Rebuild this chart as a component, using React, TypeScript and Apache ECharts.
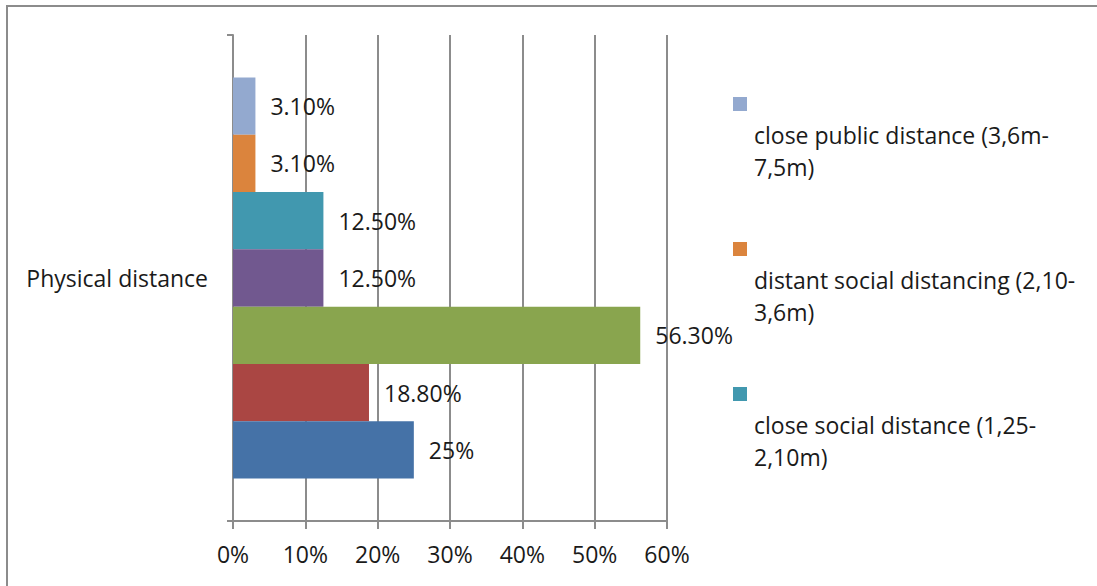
import React, { useEffect, useRef } from "react";
import * as echarts from "echarts";

// Data (top-to-bottom order as seen in the chart)
const categories = ["Physical distance"];
const seriesNames = [
  "close public distance (3,6m-7,5m)",
  "distant social distancing (2,10-3,6m)",
  "close social distance (1,25-2,10m)",
  "distant personal distance (0,75-1,25m)",
  "close personal distance (0,45-0,75m)",
  "distant intimate distance (0,15-0,45m)",
  "close intimate distance (0-0,15m)",
];
const seriesValues = [3.1, 3.1, 12.5, 12.5, 56.3, 18.8, 25];
const labelTexts = ["3.10%", "3.10%", "12.50%", "12.50%", "56.30%", "18.80%", "25%"];
const seriesColors = ["#93A9CF", "#DB843D", "#4198AF", "#71588F", "#89A54E", "#AA4643", "#4572A7"];
const legendShown = 3;
const xTicks = [0, 10, 20, 30, 40, 50, 60];

const FONT = "'Open Sans'";
const FS = 23;
const GRAY = "#8c8c8c";
const TXT = "#1a1a1a";

export default function App() {
  const ref = useRef<HTMLDivElement>(null);
  useEffect(() => {
    if (!ref.current) return;
    const chart = echarts.init(ref.current, null, { renderer: "svg" });

    const legendGraphics: any[] = [];
    for (let i = 0; i < legendShown; i++) {
      const top = 97 + i * 145;
      legendGraphics.push({
        type: "rect",
        shape: { x: 733, y: top, width: 14, height: 14 },
        style: { fill: seriesColors[i] },
      });
      legendGraphics.push({
        type: "text",
        x: 754,
        y: top + 22,
        style: {
          text: seriesNames[i].replace(/-(?=\d)/, "-\n"),
          font: `${FS}px ${FONT}`,
          fill: TXT,
          lineHeight: 32,
          textVerticalAlign: "top",
        },
      });
    }

    chart.setOption({
      animation: false,
      grid: { left: 233, right: 430, top: 35, bottom: 65 },
      xAxis: {
        type: "value",
        min: xTicks[0],
        max: xTicks[xTicks.length - 1],
        interval: 10,
        axisLine: { show: true, lineStyle: { color: GRAY, width: 2 } },
        axisTick: { show: true, length: 8, lineStyle: { color: GRAY, width: 2 } },
        splitLine: { show: true, lineStyle: { color: GRAY, width: 2 } },
        axisLabel: {
          formatter: "{value}%",
          fontFamily: FONT,
          fontSize: FS,
          color: TXT,
          margin: 21,
        },
      },
      yAxis: {
        type: "category",
        data: categories,
        axisLine: { show: true, lineStyle: { color: GRAY, width: 2 } },
        axisTick: { show: true, length: 6, lineStyle: { color: GRAY, width: 2 } },
        axisLabel: { fontFamily: FONT, fontSize: FS, color: TXT, margin: 25 },
      },
      series: seriesNames.map((name, i) => ({
        type: "bar",
        name,
        data: [seriesValues[i]],
        barGap: "0%",
        barCategoryGap: "17.5%",
        itemStyle: { color: seriesColors[i] },
        label: {
          show: true,
          position: "right",
          distance: 15,
          formatter: () => labelTexts[i],
          fontFamily: FONT,
          fontSize: FS,
          color: TXT,
        },
      })),
      graphic: [
        {
          type: "rect",
          shape: { x: 7, y: 6, width: 1200, height: 700 },
          style: { fill: "none", stroke: GRAY, lineWidth: 2 },
          silent: true,
        },
        ...legendGraphics,
      ],
    });
    return () => chart.dispose();
  }, []);
  return (
    <div
      ref={ref}
      style={{ position: "fixed", left: 0, top: 0, width: 1097, height: 586, background: "#fff" }}
    />
  );
}
